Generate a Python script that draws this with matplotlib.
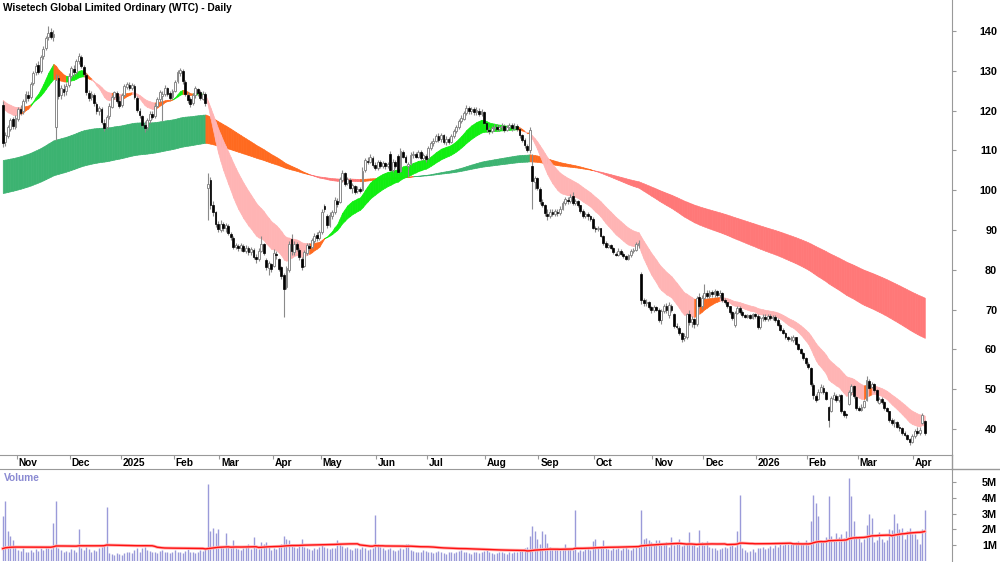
import numpy as np
import pandas as pd
import matplotlib
matplotlib.use("Agg")
import matplotlib.pyplot as plt
from matplotlib.transforms import blended_transform_factory
from matplotlib.lines import Line2D

plt.rcParams['font.family'] = ['Liberation Sans', 'DejaVu Sans']

# ------------------------------------------------------------
# trading days: ASX holidays and the WTC halt (20-21 Feb 2025) removed
# ------------------------------------------------------------
closed_days = ['2024-12-25', '2024-12-26', '2025-01-01', '2025-01-27',
               '2025-02-20', '2025-02-21', '2025-04-18', '2025-04-21',
               '2025-04-25', '2025-06-09', '2025-12-25', '2025-12-26',
               '2026-01-01', '2026-01-26', '2026-04-03', '2026-04-06']
dates = pd.bdate_range('2024-10-24', '2026-04-09')
dates = dates[~dates.isin(pd.to_datetime(closed_days))]

# daily candles, one line per month (Oct 24 ... Apr 9)
opens = [
    121.5, 112.0, 113.5, 115.5, 117.8, 116.0,
    118.0, 120.5, 119.8, 122.5, 124.0, 123.5, 127.0, 129.8, 131.5, 130.0, 133.8, 135.8, 138.5, 139.8, 138.5, 116.0, 128.2, 123.8, 125.5, 124.8, 126.5,
    128.8, 130.5, 129.8, 132.5, 133.5, 131.0, 129.0, 124.5, 123.5, 124.0, 121.6, 120.0, 120.4, 117.0, 115.8, 118.6, 121.0, 123.5, 124.4, 122.5,
    121.4, 124.0, 126.0, 126.5, 125.8, 126.2, 123.2, 120.0, 118.6, 116.5, 115.8, 117.6, 119.2, 118.6, 121.2, 122.8, 123.6, 124.2, 125.6, 124.4, 123.4,
    125.0, 127.4, 129.4, 130.0, 127.2, 124.0, 122.8, 121.8, 123.8, 125.4, 124.6, 123.0, 124.2, 100.5, 102.5, 96.2, 94.4, 91.4,
    90.0, 91.4, 90.4, 91.0, 89.0, 88.0, 85.8, 86.0, 85.4, 86.0, 84.8, 85.6, 84.4, 85.0, 83.2, 82.6, 84.8, 86.4, 82.4, 80.4, 81.4,
    81.0, 84.0, 82.8, 80.6, 78.8, 75.6, 80.0, 87.8, 84.4, 86.4, 85.0, 82.8, 81.0, 84.2, 86.0, 85.8, 87.2, 88.8, 88.0,
    89.4, 96.0, 93.6, 91.2, 93.6, 94.4, 97.4, 97.0, 102.6, 104.2, 101.8, 102.6, 100.6, 101.0, 99.8, 100.2, 100.0, 105.0, 107.4, 107.2, 108.2, 106.4,
    105.6, 107.0, 106.2, 106.8, 106.0, 109.2, 105.0, 107.0, 108.6, 104.8, 109.6, 108.4, 106.0, 106.8, 108.8, 109.0, 108.4, 109.6, 108.0, 108.6,
    108.0, 110.6, 111.8, 112.4, 113.6, 112.8, 113.8, 112.2, 112.8, 112.2, 113.6, 114.8, 115.8, 117.4, 118.0, 119.4, 120.6, 119.8, 120.4, 119.6, 120.0, 119.2, 119.6,
    116.8, 115.2, 114.8, 115.6, 116.0, 115.4, 115.8, 116.2, 115.2, 115.8, 116.4, 115.6, 116.2, 115.4, 113.8, 112.6, 111.2, 110.0, 106.0, 102.0, 103.0,
    100.4, 97.0, 96.2, 94.0, 93.6, 94.6, 94.0, 94.6, 94.2, 95.4, 96.8, 97.6, 97.2, 98.6, 96.8, 97.2, 96.2, 94.8, 93.6, 94.0, 93.4, 92.8,
    90.6, 90.2, 90.4, 88.6, 86.8, 85.8, 86.2, 85.6, 84.0, 83.8, 84.8, 84.0, 83.4, 82.8, 83.6, 84.6, 85.0, 86.2, 79.0, 72.4, 71.6, 72.0, 70.6,
    69.8, 70.6, 70.0, 67.4, 69.6, 70.8, 68.6, 71.0, 69.0, 66.0, 65.4, 64.0, 62.8, 63.2, 69.0, 66.8, 67.6, 66.4, 73.2, 70.8,
    73.0, 74.2, 73.4, 74.4, 73.8, 74.6, 73.6, 74.2, 72.4, 71.8, 70.8, 69.4, 66.2, 69.2, 70.4, 69.4, 68.6, 68.2, 68.6, 68.0, 68.8,
    68.4, 65.6, 67.8, 68.2, 67.6, 68.4, 67.8, 68.2, 67.4, 66.2, 65.0, 64.0, 63.0, 62.6, 62.4, 63.0, 61.4, 60.0, 59.2, 57.8,
    56.4, 55.4, 51.0, 48.4, 47.6, 49.4, 50.2, 49.2, 45.6, 44.6, 47.6, 48.4, 47.4, 48.6, 44.4, 43.6, 46.2, 49.2, 50.8, 48.0,
    45.4, 44.8, 45.6, 47.4, 52.0, 50.6, 51.2, 49.8, 46.6, 47.6, 46.8, 45.2, 44.4, 42.2, 41.4, 41.8, 40.6, 40.2, 39.0, 38.6, 37.6, 36.8,
    38.2, 39.4, 39.0, 41.6, 42.0,
]
highs = [
    122.5, 114.5, 116.3, 118.2, 118.5, 118.8,
    121.0, 121.5, 123.0, 124.8, 125.0, 127.3, 130.0, 132.0, 132.4, 134.0, 136.2, 138.8, 141.2, 140.8, 140.2, 129.2, 129.0, 126.5, 126.6, 127.0, 129.4,
    131.2, 131.5, 133.0, 134.5, 134.0, 131.5, 129.4, 125.2, 124.8, 124.4, 122.2, 121.2, 121.0, 117.8, 119.0, 121.8, 124.0, 125.0, 124.8, 123.6,
    124.5, 126.8, 127.3, 127.2, 127.0, 126.6, 123.6, 120.6, 119.0, 117.4, 118.2, 119.8, 120.0, 121.8, 123.4, 125.2, 125.0, 126.4, 126.0, 125.0, 125.4,
    127.8, 130.2, 130.8, 130.4, 127.6, 124.6, 123.4, 124.4, 126.2, 125.8, 125.2, 124.8, 124.6, 104.4, 103.2, 97.2, 94.8, 92.2,
    92.4, 92.0, 91.8, 91.4, 89.6, 88.4, 86.8, 86.6, 86.8, 86.4, 86.2, 86.0, 85.8, 85.4, 84.0, 85.4, 88.6, 86.8, 83.0, 82.2, 81.8,
    85.2, 84.8, 83.0, 81.0, 79.2, 81.0, 87.2, 89.0, 87.2, 87.0, 85.4, 83.2, 85.0, 86.8, 86.8, 88.0, 89.2, 89.6, 90.0,
    95.2, 96.6, 94.0, 94.4, 95.0, 98.4, 98.0, 103.4, 105.2, 104.6, 103.4, 103.0, 101.8, 101.2, 101.0, 100.8, 105.8, 108.2, 108.4, 109.0, 108.6, 107.2,
    107.6, 107.6, 107.4, 107.2, 107.2, 109.8, 107.8, 107.6, 109.0, 110.5, 110.0, 108.8, 107.2, 109.6, 109.8, 109.6, 110.2, 110.0, 109.4, 109.2,
    111.2, 112.4, 113.0, 114.2, 114.4, 114.4, 114.2, 113.6, 113.4, 114.2, 115.4, 116.4, 118.0, 118.8, 120.0, 121.4, 121.2, 121.0, 120.8, 120.8, 120.6, 120.4, 119.8,
    117.0, 115.8, 116.2, 116.6, 116.6, 116.4, 116.8, 116.6, 116.4, 117.0, 116.8, 116.8, 116.6, 115.6, 114.2, 113.0, 111.6, 116.0, 109.2, 103.6, 103.4,
    100.8, 97.8, 96.6, 95.2, 95.2, 95.2, 95.4, 95.2, 96.0, 97.4, 98.4, 98.2, 99.0, 99.6, 97.8, 97.6, 96.4, 95.2, 94.6, 94.4, 93.8, 93.2,
    91.0, 91.0, 90.6, 88.8, 87.2, 86.8, 86.6, 85.8, 84.4, 85.4, 85.2, 84.4, 83.8, 84.0, 85.2, 85.6, 87.0, 87.4, 79.4, 72.8, 72.6, 72.2, 71.0,
    71.2, 71.0, 70.4, 70.2, 71.4, 71.6, 71.8, 71.4, 69.2, 66.6, 65.8, 64.4, 64.0, 69.2, 69.8, 68.4, 68.0, 73.4, 74.2, 73.6,
    76.4, 75.0, 75.0, 75.0, 75.2, 75.0, 74.8, 74.4, 72.8, 72.0, 71.0, 69.6, 69.6, 70.8, 70.8, 69.8, 69.0, 69.0, 69.0, 69.2, 69.2,
    68.8, 68.4, 68.8, 68.8, 69.0, 68.8, 68.6, 68.6, 67.8, 66.6, 65.4, 64.4, 63.4, 63.4, 63.6, 63.2, 61.6, 60.4, 59.4, 58.0,
    56.8, 55.6, 51.6, 48.8, 50.0, 51.2, 51.0, 49.6, 45.8, 48.2, 49.4, 48.8, 48.8, 48.9, 44.8, 44.0, 49.8, 51.2, 51.0, 48.2,
    45.8, 46.2, 47.4, 53.2, 52.6, 51.8, 51.6, 50.0, 48.0, 48.0, 47.0, 45.6, 44.6, 42.8, 42.4, 42.0, 41.2, 40.6, 39.6, 38.8, 37.8, 38.8,
    40.0, 40.6, 40.4, 44.0, 42.2,
]
lows = [
    110.8, 111.2, 113.0, 115.0, 115.5, 115.4,
    117.5, 118.8, 119.2, 121.8, 122.5, 123.0, 126.5, 129.0, 129.2, 129.5, 133.0, 135.2, 137.8, 137.9, 137.5, 112.6, 122.8, 123.0, 123.6, 124.0, 126.0,
    128.2, 128.8, 129.2, 131.8, 130.6, 128.6, 123.8, 122.4, 122.6, 121.2, 119.2, 119.0, 116.6, 114.8, 115.4, 118.0, 120.6, 122.8, 121.8, 120.6,
    121.0, 123.6, 125.4, 125.2, 125.2, 122.8, 119.6, 118.2, 115.8, 114.6, 115.2, 117.0, 117.8, 118.2, 120.8, 122.2, 117.4, 123.6, 123.6, 122.6, 122.8,
    124.6, 127.0, 128.6, 126.8, 123.6, 121.8, 121.0, 121.4, 123.2, 123.6, 122.6, 122.6, 121.2, 92.5, 95.2, 93.6, 90.8, 89.6,
    89.4, 89.8, 89.6, 88.8, 87.6, 85.2, 85.2, 84.8, 84.8, 84.4, 84.2, 83.8, 83.8, 82.6, 81.8, 82.2, 84.4, 83.6, 80.0, 78.6, 79.4,
    80.6, 82.8, 79.6, 77.8, 68.2, 75.2, 79.4, 83.8, 83.8, 84.6, 82.4, 80.0, 80.6, 83.8, 85.0, 85.2, 86.8, 87.2, 87.6,
    89.0, 94.4, 90.4, 90.8, 92.8, 94.0, 95.8, 96.8, 102.0, 101.0, 101.2, 100.2, 99.4, 99.0, 99.4, 99.2, 99.8, 104.6, 106.6, 106.8, 105.8, 105.0,
    105.2, 105.6, 105.6, 105.4, 105.6, 104.8, 104.6, 105.6, 104.2, 104.6, 108.0, 106.8, 103.4, 106.4, 108.2, 108.0, 108.0, 107.6, 107.6, 107.2,
    107.8, 110.2, 111.2, 112.0, 112.2, 112.2, 111.6, 111.4, 111.6, 111.8, 113.2, 114.4, 115.4, 116.8, 117.6, 119.0, 119.2, 119.2, 118.8, 119.0, 118.6, 118.6, 116.6,
    114.6, 114.2, 114.4, 115.0, 114.8, 115.0, 115.2, 114.6, 114.8, 115.4, 115.0, 115.2, 114.8, 113.2, 112.0, 110.6, 109.6, 109.4, 95.4, 100.2, 100.0,
    96.6, 95.8, 93.6, 92.4, 93.0, 93.4, 93.6, 93.6, 93.8, 95.0, 96.4, 96.6, 96.8, 96.4, 96.2, 95.8, 94.2, 93.0, 93.0, 92.6, 92.2, 90.2,
    89.6, 89.8, 88.2, 86.2, 85.4, 85.4, 85.2, 84.0, 83.4, 83.4, 83.6, 83.0, 82.4, 82.4, 83.2, 84.2, 84.6, 85.6, 71.4, 71.0, 70.8, 70.2, 69.2,
    69.4, 69.6, 66.8, 66.4, 69.2, 69.2, 67.8, 69.4, 65.4, 65.2, 63.6, 61.9, 62.2, 62.6, 66.2, 65.6, 65.4, 66.0, 70.4, 70.2,
    72.6, 72.8, 73.0, 73.2, 73.2, 73.2, 73.0, 72.0, 71.4, 70.4, 69.0, 67.4, 65.6, 68.8, 68.8, 68.2, 67.8, 67.8, 67.6, 67.6, 67.8,
    65.2, 65.2, 67.2, 67.2, 67.2, 67.4, 67.4, 67.0, 65.8, 64.6, 63.8, 62.6, 62.0, 62.0, 61.9, 61.0, 59.8, 58.8, 57.4, 56.2,
    55.0, 50.8, 47.6, 46.8, 47.2, 49.0, 48.8, 47.2, 40.6, 44.2, 47.2, 46.8, 46.8, 44.0, 43.1, 42.8, 46.0, 48.6, 47.8, 44.8,
    44.4, 44.4, 45.2, 47.0, 50.0, 50.2, 49.4, 46.8, 46.2, 46.4, 44.8, 44.2, 41.8, 41.0, 40.6, 40.2, 39.6, 38.6, 38.2, 37.2, 36.0, 36.6,
    37.8, 38.6, 38.6, 41.2, 38.6,
]
closes = [
    111.8, 113.8, 115.8, 117.6, 116.2, 118.2,
    120.5, 119.5, 122.4, 124.2, 123.2, 126.8, 129.5, 131.2, 129.8, 133.5, 135.6, 138.2, 139.6, 138.6, 139.2, 127.8, 123.6, 125.8, 124.6, 126.2, 128.8,
    130.6, 129.6, 132.4, 133.8, 131.2, 129.2, 124.6, 123.2, 124.2, 121.8, 119.8, 120.6, 117.2, 115.6, 118.4, 121.2, 123.4, 124.6, 122.4, 121.2,
    123.8, 126.2, 126.6, 125.8, 126.4, 123.4, 120.2, 118.8, 116.4, 115.6, 117.6, 119.2, 118.4, 121.2, 122.8, 124.6, 124.2, 125.8, 124.2, 123.2, 124.8,
    127.2, 129.6, 130.2, 127.4, 124.2, 122.6, 121.6, 123.8, 125.6, 124.4, 123.2, 124.2, 121.8, 101.5, 96.4, 94.6, 91.6, 90.2,
    91.6, 90.4, 91.2, 89.2, 88.2, 85.8, 86.2, 85.4, 86.2, 84.8, 85.6, 84.4, 85.2, 83.2, 82.6, 84.8, 86.6, 84.2, 80.6, 81.6, 80.2,
    84.2, 83.6, 80.2, 78.4, 75.2, 80.4, 86.4, 84.6, 86.6, 85.2, 83.2, 80.6, 84.4, 86.2, 85.6, 87.4, 88.6, 88.0, 89.4,
    94.6, 95.2, 91.2, 93.8, 94.4, 97.6, 96.6, 102.8, 104.4, 101.6, 102.8, 100.6, 101.2, 99.6, 100.4, 99.8, 104.8, 107.6, 107.2, 108.4, 106.4, 105.6,
    107.0, 106.2, 106.8, 106.0, 106.6, 105.2, 107.2, 106.2, 104.6, 109.8, 108.4, 107.2, 106.6, 108.8, 109.2, 108.4, 109.6, 108.0, 108.8, 107.8,
    110.6, 111.8, 112.4, 113.6, 112.6, 113.8, 112.2, 112.8, 112.2, 113.6, 114.8, 115.8, 117.4, 118.2, 119.4, 120.6, 119.8, 120.4, 119.6, 120.2, 119.2, 119.8, 117.0,
    115.4, 114.8, 115.6, 116.0, 115.4, 115.8, 116.2, 115.2, 115.8, 116.4, 115.6, 116.2, 115.4, 113.8, 112.6, 111.4, 110.2, 115.2, 102.4, 103.0, 100.6,
    97.2, 96.4, 94.2, 93.6, 94.6, 94.0, 94.8, 94.2, 95.4, 96.8, 97.8, 97.2, 98.4, 96.8, 97.4, 96.2, 94.8, 93.6, 94.0, 93.4, 92.8, 90.6,
    90.2, 90.6, 88.6, 86.8, 85.8, 86.2, 85.6, 84.4, 83.8, 84.8, 84.0, 83.4, 82.8, 83.6, 84.6, 85.0, 86.4, 86.8, 72.4, 71.6, 72.0, 70.6, 69.8,
    70.6, 70.0, 67.4, 69.6, 70.8, 69.8, 71.2, 70.0, 66.0, 65.6, 64.2, 62.6, 63.4, 68.8, 66.8, 67.6, 66.4, 72.8, 70.8, 73.0,
    74.2, 73.4, 74.4, 73.8, 74.6, 73.6, 74.2, 72.4, 71.8, 70.8, 69.4, 67.8, 69.2, 70.4, 69.4, 68.6, 68.2, 68.6, 68.0, 68.8, 68.4,
    65.6, 67.8, 68.2, 67.6, 68.4, 67.8, 68.2, 67.4, 66.2, 65.0, 64.2, 63.0, 62.6, 62.8, 63.2, 61.4, 60.2, 59.2, 57.8, 56.6,
    55.6, 51.2, 48.6, 47.4, 49.4, 50.6, 49.4, 47.6, 42.2, 47.8, 48.6, 47.4, 48.2, 44.6, 43.6, 43.4, 49.4, 50.8, 48.2, 45.4,
    44.8, 45.6, 47.0, 52.2, 50.4, 51.2, 49.8, 47.2, 47.6, 46.8, 45.2, 44.6, 42.2, 41.4, 41.8, 40.6, 40.2, 39.0, 38.6, 37.6, 36.8, 38.2,
    39.4, 39.0, 39.8, 43.6, 39.0,
]
# volume in millions of shares
volume_m = [
    2.85, 3.8, 1.9, 1.6, 1.3, 0.9,
    0.7, 0.65, 0.8, 0.6, 0.55, 0.7, 0.6, 0.75, 0.65, 0.8, 0.7, 0.9, 0.85, 0.75, 2.4, 3.8, 0.85, 0.7, 0.6, 0.65, 0.55,
    0.75, 0.7, 0.6, 2.05, 0.8, 0.7, 0.9, 0.75, 0.6, 0.7, 0.65, 0.8, 0.9, 1.0, 3.4, 0.5, 0.45, 0.4, 0.5, 0.45,
    0.4, 0.5, 0.55, 0.6, 0.5, 0.7, 0.8, 0.6, 0.85, 0.9, 0.7, 0.65, 0.55, 0.6, 0.5, 0.65, 0.7, 0.55, 0.6, 0.5, 0.6,
    0.7, 0.55, 0.6, 0.5, 0.65, 0.75, 0.6, 0.55, 0.5, 0.6, 0.7, 0.65, 0.8, 4.9, 1.9, 2.1, 1.8, 2.0,
    0.95, 0.8, 1.75, 0.9, 0.85, 1.3, 0.8, 0.75, 0.7, 0.8, 0.9, 1.05, 0.75, 1.5, 0.8, 0.75, 1.2, 1.1, 1.2, 0.9, 0.7,
    0.8, 0.75, 1.0, 1.1, 1.6, 1.4, 1.3, 1.1, 0.9, 0.85, 1.0, 1.4, 0.9, 0.8, 0.75, 0.7, 0.8, 0.75, 0.9,
    1.0, 0.9, 0.8, 0.75, 0.85, 0.8, 1.3, 1.1, 0.95, 0.8, 0.9, 0.75, 0.7, 0.85, 0.8, 0.75, 0.9, 0.8, 0.7, 0.75, 0.8, 2.9,
    1.05, 0.9, 0.8, 0.7, 0.75, 0.85, 0.7, 0.65, 0.7, 0.8, 0.75, 1.05, 1.05, 0.7, 0.65, 0.6, 0.55, 0.6, 0.7, 0.65,
    0.6, 0.55, 0.5, 0.6, 0.65, 0.55, 0.5, 0.45, 0.6, 0.55, 0.5, 0.6, 0.65, 0.7, 0.6, 0.55, 0.5, 0.45, 0.55, 0.6, 0.5, 0.55, 0.65,
    0.7, 0.55, 0.5, 0.45, 0.5, 0.55, 0.6, 0.5, 0.45, 0.55, 0.5, 0.6, 0.55, 0.65, 0.7, 0.8, 0.9, 1.6, 2.2, 1.9, 1.4,
    1.1, 1.9, 1.7, 1.15, 0.9, 0.8, 0.75, 0.85, 0.7, 0.8, 1.05, 0.75, 0.8, 0.7, 3.2, 0.6, 0.7, 0.65, 0.75, 0.8, 0.7, 1.25,
    1.4, 0.9, 0.85, 1.3, 0.8, 0.75, 0.7, 0.8, 0.75, 0.85, 0.7, 0.8, 0.9, 0.75, 0.7, 0.85, 0.9, 1.0, 3.2, 1.4, 1.45, 1.3, 1.2,
    1.0, 1.35, 1.3, 1.0, 1.1, 1.2, 0.9, 1.5, 1.0, 1.1, 1.4, 0.95, 1.0, 1.1, 1.85, 1.0, 1.1, 0.9, 1.95, 1.2,
    1.0, 1.25, 0.9, 0.8, 0.85, 0.7, 0.75, 0.8, 0.9, 0.85, 0.95, 1.0, 0.9, 1.9, 4.15, 0.8, 0.7, 0.55, 0.65, 0.75, 0.6,
    0.8, 0.85, 0.9, 0.75, 0.8, 0.95, 0.85, 1.0, 0.9, 1.1, 1.0, 1.2, 1.1, 1.15, 1.05, 1.2, 1.25, 1.15, 1.1, 1.3,
    1.0, 2.5, 4.15, 3.7, 2.85, 1.3, 1.25, 1.5, 4.1, 1.6, 1.4, 1.8, 1.5, 1.7, 1.45, 1.9, 5.25, 4.1, 2.5, 1.6,
    1.6, 1.2, 1.4, 2.3, 3.0, 2.75, 1.2, 1.3, 1.85, 1.4, 1.2, 1.3, 2.05, 1.95, 3.0, 2.4, 2.05, 2.1, 1.4, 1.9, 2.1, 1.7,
    1.7, 1.4, 1.1, 2.05, 3.25,
]

# ribbon settings; start values = ribbon edges at the first bar
fast_spans, fast_start = (15, 30), (121.0, 122.7)
slow_spans, slow_start = (140, 230), (107.6, 99.3)
vol_window, vol_start = 60, 0.75

n = len(dates)
for name, arr in [('opens', opens), ('highs', highs), ('lows', lows),
                  ('closes', closes), ('volume_m', volume_m)]:
    assert len(arr) == n, f'{name}: {len(arr)} != {n}'

x = np.arange(n)
o, h, l, c = (np.array(a, dtype=float) for a in (opens, highs, lows, closes))
vol = np.array(volume_m) * 1e6


def ema(values, span, start):
    a = 2.0 / (span + 1)
    out = np.empty(len(values))
    out[0] = start
    for k in range(1, len(values)):
        out[k] = out[k - 1] + a * (values[k] - out[k - 1])
    return out


def ribbon(ax, short, long_, col_up, col_mix, col_down, z):
    # colour: short above long and long rising -> up, both bearish -> down, else mixed
    rising = np.r_[long_[1] > long_[0], np.diff(long_) > 0]
    above = short > long_
    cols = np.where(above & rising, col_up,
                    np.where(~above & ~rising, col_down, col_mix))
    lo, hi = np.minimum(short, long_), np.maximum(short, long_)
    for k in range(1, len(short)):
        ax.fill_between(x[k - 1:k + 1], lo[k - 1:k + 1], hi[k - 1:k + 1],
                        facecolor=cols[k], edgecolor=cols[k], lw=0.5, zorder=z)


# ------------------------------------------------------------
# layout (pixel positions of the original, 1000 x 562)
# ------------------------------------------------------------
W, H = 1000, 562
fig = plt.figure(figsize=(W / 100, H / 100), dpi=100)
ax = fig.add_axes([0, 1 - 455 / H, 952 / W, 455 / H])
axv = fig.add_axes([0, 1 / H, 952 / W, 92 / H])
xlim = (-2.77 / 2.533, (952 - 2.77) / 2.533)

# ribbons
slow_s = ema(c, slow_spans[0], slow_start[0])
slow_l = ema(c, slow_spans[1], slow_start[1])
fast_s = ema(c, fast_spans[0], fast_start[0])
fast_l = ema(c, fast_spans[1], fast_start[1])
ribbon(ax, slow_s, slow_l, '#3cb371', '#ff6a1f', '#ff7878', 1)
ribbon(ax, fast_s, fast_l, '#10ee10', '#ff6a1f', '#ffb4b4', 2)

# candles
up = c >= o
ax.vlines(x, l, h, color='#8a8a8a', lw=0.8, zorder=5)
body_lo = np.minimum(o, c)
body_h = np.maximum(np.abs(c - o), 0.25)
ax.bar(x[up], body_h[up], bottom=body_lo[up], width=0.72, color='white',
       edgecolor='#8a8a8a', lw=0.7, zorder=6)
ax.bar(x[~up], body_h[~up], bottom=body_lo[~up], width=0.72, color='black',
       edgecolor='black', lw=0.5, zorder=6)

ax.set_xlim(*xlim)
ax.set_ylim(140 - 424 / 3.98, 140 + 31 / 3.98)

# volume + its moving average
axv.vlines(x, 0, vol, color='#9a9ad9', lw=1.0)
padded = np.r_[np.full(vol_window - 1, vol_start * 1e6), vol]
vol_ma = pd.Series(padded).rolling(vol_window).mean().to_numpy()[vol_window - 1:]
axv.plot(x, vol_ma, color='#ffb0b0', lw=2.2, zorder=3)
axv.plot(x, vol_ma, color='#ff1010', lw=1.0, zorder=4)
axv.set_xlim(*xlim)
axv.set_ylim(0, 5.82e6)

grey = '#999999'
for a in (ax, axv):
    for side in ('left', 'top', 'bottom', 'right'):
        a.spines[side].set_visible(False)
    a.spines['right'].set_visible(True)
    a.spines['right'].set_color(grey)
    a.yaxis.tick_right()
ax.spines['bottom'].set_visible(True)
ax.spines['bottom'].set_color(grey)
axv.spines['top'].set_visible(True)
axv.spines['top'].set_color(grey)

# price axis
ax.set_yticks(range(40, 141, 10))
ax.tick_params(axis='y', direction='out', length=3, color=grey, pad=29.5,
               labelsize=7.8)
for lbl in ax.get_yticklabels():
    lbl.set_fontweight('bold')
    lbl.set_horizontalalignment('right')

# volume axis
axv.set_yticks([1e6, 2e6, 3e6, 4e6, 5e6])
axv.set_yticklabels(['1M', '2M', '3M', '4M', '5M'])
axv.tick_params(axis='y', direction='out', length=3, color=grey, pad=29.5,
                labelsize=7.8)
for lbl in axv.get_yticklabels():
    lbl.set_fontweight('bold')
    lbl.set_horizontalalignment('right')
axv.set_xticks([])

# month ticks and labels in the date strip
starts = np.where(dates.month[1:] != dates.month[:-1])[0] + 1
month_labels = [d.strftime('%Y') if d.month == 1 else d.strftime('%b')
                for d in dates[starts]]
ax.set_xticks(starts - 0.5)
ax.tick_params(axis='x', direction='out', length=3, color=grey,
               labelbottom=False)
tr = blended_transform_factory(ax.transData, fig.transFigure)
for s, lab in zip(starts, month_labels):
    ax.text(s + 0.2, 1 - 462.5 / H, lab, transform=tr, ha='left', va='center',
            fontsize=7.3, fontweight='bold', clip_on=False)

# strip borders
fig.add_artist(Line2D([952 / W, 952 / W], [1 - 469 / H, 1 - 455 / H],
                      color=grey, lw=1))
fig.add_artist(Line2D([952 / W, 1], [1 - 469 / H, 1 - 469 / H],
                      color=grey, lw=1))

fig.text(3 / W, 1 - 8 / H, 'Wisetech Global Limited Ordinary (WTC) - Daily',
         ha='left', va='center', fontsize=7.3, fontweight='bold')
fig.text(4 / W, 1 - 478 / H, 'Volume', ha='left', va='center', fontsize=7.3,
         fontweight='bold', color='#8a8ad2')

fig.savefig('out.png', dpi=100)
